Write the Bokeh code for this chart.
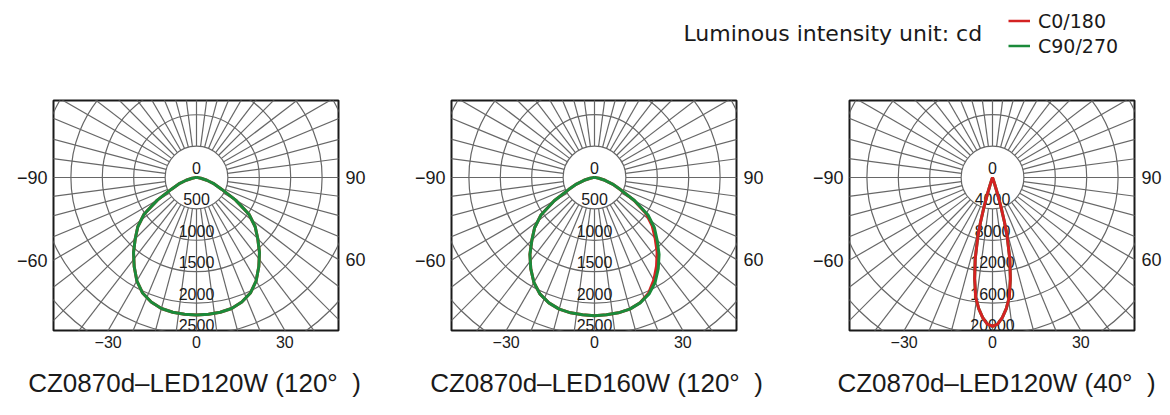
import math
from bokeh.plotting import figure
from bokeh.layouts import column, row
from bokeh.models import (ColumnDataSource, Label, Legend, LegendItem,
                          FixedTicker, LinearAxis, Range1d)
from bokeh.embed import file_html
from bokeh.resources import INLINE
from bokeh.core.properties import value

# ---------------- data (candela vs. gamma angle, degrees) ----------------
gamma = [0, 5, 10, 15, 20, 25, 30, 35, 40, 45, 50, 55, 60, 65, 70, 75, 80, 85, 90]

# CZ0870d-LED120W (120°)
w120_c0180 = [2190, 2185, 2178, 2160, 2110, 2030, 1900, 1730, 1560, 1380,
              1220, 1020, 720, 440, 300, 170, 70, 20, 0]
w120_c90270 = [2190, 2185, 2178, 2160, 2110, 2030, 1900, 1730, 1560, 1380,
               1220, 1020, 720, 440, 300, 170, 70, 20, 0]

# CZ0870d-LED160W (120°)
w160_c0 = [2200, 2195, 2188, 2170, 2122, 2035, 1888, 1722, 1552, 1365,
           1200, 1002, 725, 452, 305, 172, 70, 20, 0]
w160_c180 = [2200, 2195, 2188, 2170, 2125, 2050, 1930, 1770, 1600, 1410,
             1245, 1040, 740, 455, 305, 172, 70, 20, 0]
w160_c90270 = [2200, 2195, 2188, 2170, 2125, 2050, 1930, 1770, 1600, 1410,
               1245, 1040, 740, 455, 305, 172, 70, 20, 0]

# CZ0870d-LED120W (40°)
gamma_n = [0, 2, 4, 6, 8, 10, 12, 14, 15, 16, 17, 18, 20, 25, 30, 45, 60, 75, 90]
n40_c0180 = [18950, 18700, 17900, 16800, 15400, 13100, 10600, 7700, 5900, 4000,
             2300, 1000, 200, 0, 0, 0, 0, 0, 0]
n40_c90270 = [18950, 18700, 17900, 16800, 15400, 13100, 10600, 7700, 5900, 4000,
              2300, 1000, 200, 0, 0, 0, 0, 0, 0]

ring_labels_wide = ["0", "500", "1000", "1500", "2000", "2500"]
ring_labels_narrow = ["0", "4000", "8000", "12000", "16000", "20000"]
titles = ["CZ0870d\u2013LED120W (120\u00b0\u00a0\u00a0)",
          "CZ0870d\u2013LED160W (120\u00b0\u00a0\u00a0)",
          "CZ0870d\u2013LED120W (40\u00b0\u00a0\u00a0)"]
side_left = ["\u221290", "\u221260"]
side_right = ["90", "60"]
bottom_labels = ["\u221230", "0", "30"]
legend_labels = ["C0/180", "C90/270"]
unit_text = "Luminous intensity unit: cd"

RED = "#d42222"
GREEN = "#1b8a3a"
GRID = "#676767"
INK = "#1a1a1a"
RING_PX = 31.4      # pixels per ring step
GRID_STEP = 7.5     # degrees between radial lines

# layout (pixels)
FRAME_W, FRAME_H = 285, 230
CX, CY = 143, 77                    # polar centre inside a frame
BORDERS = [(53, 57), (56, 56), (57, 35)]
TOP_H, ROW_TOP, ROW_BOT, BOT_H = 93, 7, 26, 59
TITLE_DX = [-2, 2, 4]


def curve_xy(g, left_vals, right_vals):
    ang = [-a for a in reversed(g)] + g[1:]
    vals = list(reversed(left_vals)) + right_vals[1:]
    xs = [v * math.sin(math.radians(a)) for a, v in zip(ang, vals)]
    ys = [-v * math.cos(math.radians(a)) for a, v in zip(ang, vals)]
    return xs, ys


def style_axis(ax, size, standoff):
    ax.axis_line_color = None
    ax.major_tick_line_color = None
    ax.minor_tick_line_color = None
    ax.major_tick_out = 0
    ax.major_tick_in = 0
    ax.minor_tick_out = 0
    ax.minor_tick_in = 0
    ax.major_label_text_font = "Liberation Sans"
    ax.major_label_text_font_size = size
    ax.major_label_text_color = INK
    ax.major_label_standoff = standoff


def polar_panel(borders, step, ring_labels, curves):
    bl, br = borders
    k = step / RING_PX
    left_px, right_px = CX, FRAME_W - CX
    top_px, bot_px = CY, FRAME_H - CY
    p = figure(width=bl + FRAME_W + br, height=ROW_TOP + FRAME_H + ROW_BOT,
               x_range=Range1d(-left_px * k, right_px * k),
               y_range=Range1d(-bot_px * k, top_px * k),
               min_border_left=bl, min_border_right=br,
               min_border_top=ROW_TOP, min_border_bottom=ROW_BOT,
               x_axis_location=None, y_axis_location=None,
               toolbar_location=None, tools="", output_backend="svg")
    p.grid.visible = False
    p.outline_line_color = INK
    p.outline_line_width = 2
    p.background_fill_color = "white"
    p.border_fill_color = "white"

    # rings
    radii = [step * i for i in range(1, 9)]
    p.circle(x=[0] * len(radii), y=[0] * len(radii), radius=radii,
             fill_color=None, line_color=GRID, line_width=1.2)
    # radial lines
    n = int(round(360 / GRID_STEP))
    angs = [i * GRID_STEP for i in range(n)]
    r0, r1 = step, step * 9
    p.segment(x0=[r0 * math.sin(math.radians(a)) for a in angs],
              y0=[r0 * math.cos(math.radians(a)) for a in angs],
              x1=[r1 * math.sin(math.radians(a)) for a in angs],
              y1=[r1 * math.cos(math.radians(a)) for a in angs],
              line_color=GRID, line_width=1.2)

    # ring labels, sitting just above each ring
    p.text(x=[0] * len(ring_labels),
           y=[-step * i + 9.5 * k for i in range(len(ring_labels))],
           text=ring_labels, text_font=value("Liberation Sans"),
           text_font_size=value("16px"), text_color=INK,
           text_align="center", text_baseline="alphabetic")

    # intensity curves
    for g, lv, rv, color in curves:
        xs, ys = curve_xy(g, lv, rv)
        p.line(xs, ys, line_color=color, line_width=3)

    # angle labels where the 90/60/30 degree lines meet the frame
    t60 = math.tan(math.radians(60))
    t30 = math.tan(math.radians(30))
    yl = [0.0, round(-left_px * k / t60, 4)]
    yr = [0.0, round(-right_px * k / t60, 4)]
    xb = [round(-bot_px * k * t30, 4), 0.0, round(bot_px * k * t30, 4)]

    la = LinearAxis(ticker=FixedTicker(ticks=yl),
                    major_label_overrides=dict(zip(yl, side_left)))
    style_axis(la, "18px", 6)
    ra = LinearAxis(ticker=FixedTicker(ticks=yr),
                    major_label_overrides=dict(zip(yr, side_right)))
    style_axis(ra, "18px", 7)
    ba = LinearAxis(ticker=FixedTicker(ticks=xb),
                    major_label_overrides=dict(zip(xb, bottom_labels)))
    style_axis(ba, "16px", 5)
    p.add_layout(la, "left")
    p.add_layout(ra, "right")
    p.add_layout(ba, "below")
    return p


p1 = polar_panel(BORDERS[0], 500, ring_labels_wide,
                 [(gamma, w120_c0180, w120_c0180, RED),
                  (gamma, w120_c90270, w120_c90270, GREEN)])
p2 = polar_panel(BORDERS[1], 500, ring_labels_wide,
                 [(gamma, w160_c180, w160_c0, RED),
                  (gamma, w160_c90270, w160_c90270, GREEN)])
p3 = polar_panel(BORDERS[2], 4000, ring_labels_narrow,
                 [(gamma_n, n40_c90270, n40_c90270, GREEN),
                  (gamma_n, n40_c0180, n40_c0180, RED)])
panels = [p1, p2, p3]
TOTAL_W = sum(p.width for p in panels)

# ---------------- top strip: unit note + legend ----------------
top = figure(width=TOTAL_W, height=TOP_H, x_range=Range1d(0, TOTAL_W),
             y_range=Range1d(0, TOP_H), min_border=0,
             x_axis_location=None, y_axis_location=None,
             toolbar_location=None, tools="", output_backend="svg")
top.grid.visible = False
top.outline_line_color = None
nan = float("nan")
r_red = top.line("x", "y", source=ColumnDataSource(dict(x=[nan], y=[nan])),
                 line_color=RED, line_width=2.5)
r_green = top.line("x", "y", source=ColumnDataSource(dict(x=[nan], y=[nan])),
                   line_color=GREEN, line_width=2.5)
legend = Legend(items=[LegendItem(label=legend_labels[0], renderers=[r_red]),
                       LegendItem(label=legend_labels[1], renderers=[r_green])],
                location=(1008, 35), orientation="vertical",
                padding=0, margin=0, spacing=0,
                glyph_width=22, glyph_height=25, label_height=25, label_standoff=8,
                label_text_font="DejaVu Sans", label_text_font_size="19px",
                label_text_color=INK,
                border_line_color=None, background_fill_alpha=0)
top.add_layout(legend)
top.add_layout(Label(x=683, y=TOP_H - 33, text=unit_text, text_align="left",
                     text_baseline="middle", text_font="DejaVu Sans",
                     text_font_size="22px", text_color=INK))

# ---------------- bottom strip: chart titles ----------------
bottom = figure(width=TOTAL_W, height=BOT_H, x_range=Range1d(0, TOTAL_W),
                y_range=Range1d(0, BOT_H), min_border=0,
                x_axis_location=None, y_axis_location=None,
                toolbar_location=None, tools="", output_backend="svg")
bottom.grid.visible = False
bottom.outline_line_color = None
x0 = 0
for p, (bl, br), t, dx in zip(panels, BORDERS, titles, TITLE_DX):
    bottom.add_layout(Label(x=x0 + bl + CX + dx, y=BOT_H - 26, text=t,
                            text_align="center", text_baseline="middle",
                            text_font="Liberation Sans", text_font_size="26px",
                            text_color=INK))
    x0 += p.width

layout = column(top, row(*panels), bottom)
open("out.html", "w").write(file_html(layout, INLINE))
